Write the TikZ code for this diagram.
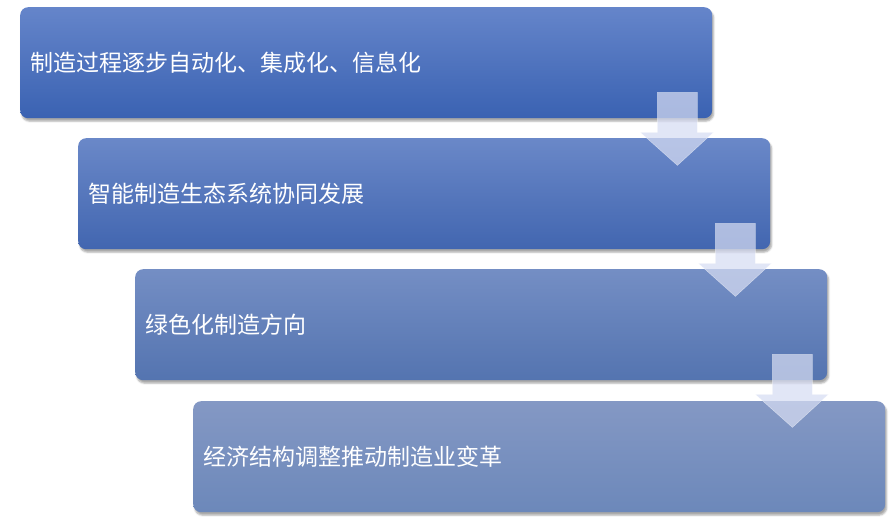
\documentclass[tikz,border=0pt]{standalone}
\usepackage{fontspec}
\usepackage{xcolor}
\usetikzlibrary{shadows.blur}
\newfontfamily\cjk{Noto Sans CJK SC}

\definecolor{boxtopa}{RGB}{101,133,202}
\definecolor{boxbota}{RGB}{58,98,178}
\definecolor{boxtopb}{RGB}{106,136,200}
\definecolor{boxbotb}{RGB}{66,102,176}
\definecolor{boxtopc}{RGB}{116,142,196}
\definecolor{boxbotc}{RGB}{84,116,176}
\definecolor{boxtopd}{RGB}{132,152,196}
\definecolor{boxbotd}{RGB}{108,136,186}
\definecolor{flowfill}{RGB}{214,220,242}

\tikzset{
  stepbox/.style={anchor=north west, rounded corners=8pt,
    minimum width=692pt, minimum height=111pt,
    text width=672pt, inner xsep=10pt, align=left,
    text=white, font=\cjk\fontsize{23}{27}\selectfont,
    blur shadow={shadow xshift=1.5pt, shadow yshift=-3pt, shadow opacity=35}},
  flowarrow/.style={fill=flowfill, fill opacity=0.72, draw=white, draw opacity=0.5, line width=0.4pt}
}

\begin{document}
\begin{tikzpicture}[x=1pt, y=1pt]
\useasboundingbox (0,0) rectangle (895,-525);

\node [stepbox, top color=boxtopa, bottom color=boxbota] (s1) at (20,-7)
  {制造过程逐步自动化、集成化、信息化};
\node [stepbox, top color=boxtopb, bottom color=boxbotb] (s2) at (78,-138)
  {智能制造生态系统协同发展};
\node [stepbox, top color=boxtopc, bottom color=boxbotc] (s3) at (135,-269)
  {绿色化制造方向};
\node [stepbox, top color=boxtopd, bottom color=boxbotd] (s4) at (193,-401)
  {经济结构调整推动制造业变革};

% arrows between the steps
\foreach \s in {s1,s2,s3} {
  \filldraw [flowarrow] ([shift={(-55,26)}]\s.south east) -- ([shift={(-15,26)}]\s.south east)
    -- ([shift={(-15,-14)}]\s.south east) -- ([shift={(1,-14)}]\s.south east)
    -- ([shift={(-35,-47)}]\s.south east) -- ([shift={(-72,-14)}]\s.south east)
    -- ([shift={(-55,-14)}]\s.south east) -- cycle;
}
\end{tikzpicture}
\end{document}
